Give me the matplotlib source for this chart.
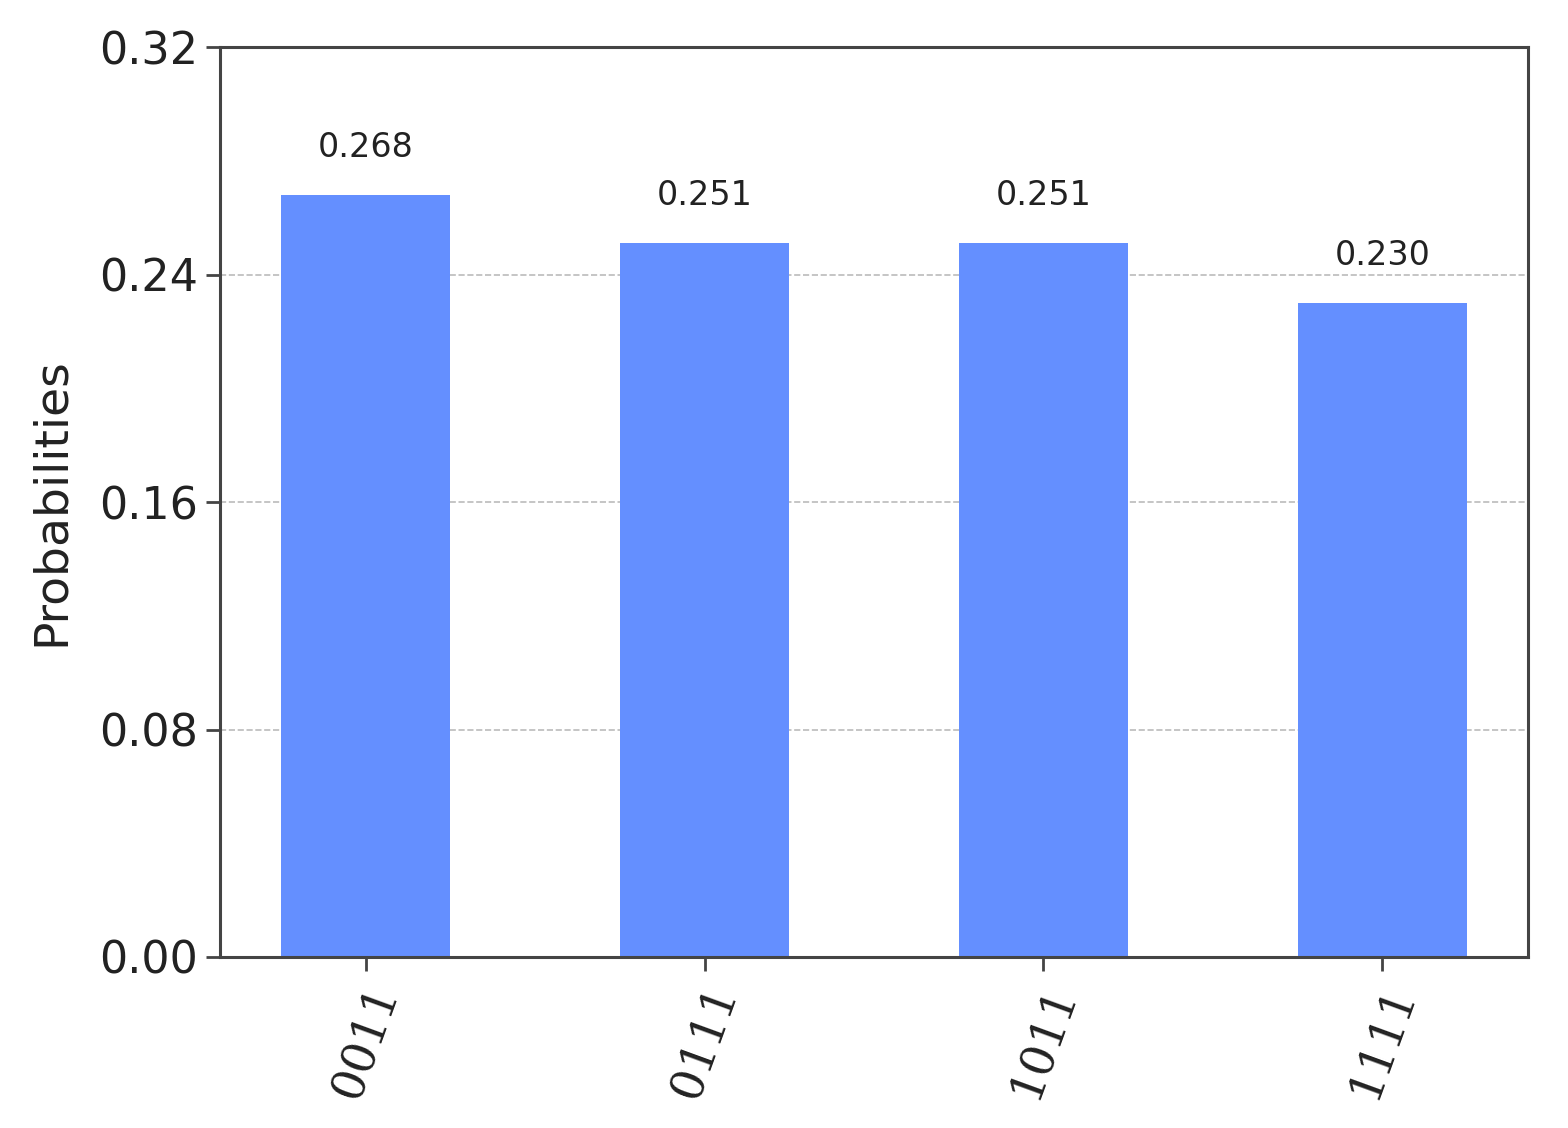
import matplotlib
matplotlib.use("Agg")
import matplotlib.pyplot as plt
import numpy as np

states = ["0011", "0111", "1011", "1111"]
probs = [0.268, 0.251, 0.251, 0.230]
yticks = [0.00, 0.08, 0.16, 0.24, 0.32]

fig = plt.figure(figsize=(15.68, 11.28), dpi=100)
ax = fig.add_axes([0.1403, 0.1516, 0.8342, 0.8067])

x = np.arange(len(states))
ax.bar(x, probs, width=0.5, color="#648fff", zorder=2)
for xi, p in zip(x, probs):
    ax.text(xi, p + 0.011, "%.3f" % p, ha="center", va="bottom", fontsize=24, color="#222222")

ax.set_xlim(-0.43, 3.43)
ax.set_ylim(0, 0.32)
ax.set_yticks(yticks)
ax.set_yticklabels(["%.2f" % t for t in yticks], fontsize=32, color="#222222")
ax.set_xticks(x)
ax.set_xticklabels(states, rotation=70, fontsize=33, family="DejaVu Serif", color="#222222")
ax.set_ylabel("Probabilities", fontsize=34, color="#222222", labelpad=18)
ax.yaxis.grid(True, linestyle="--", color="#bbbbbb", linewidth=1.2, zorder=0)
ax.set_axisbelow(True)
for s in ax.spines.values():
    s.set_linewidth(2.2)
    s.set_color("#444444")
ax.tick_params(axis="both", length=10, width=2, color="#444444", pad=6)

fig.savefig("out.png", dpi=100)
